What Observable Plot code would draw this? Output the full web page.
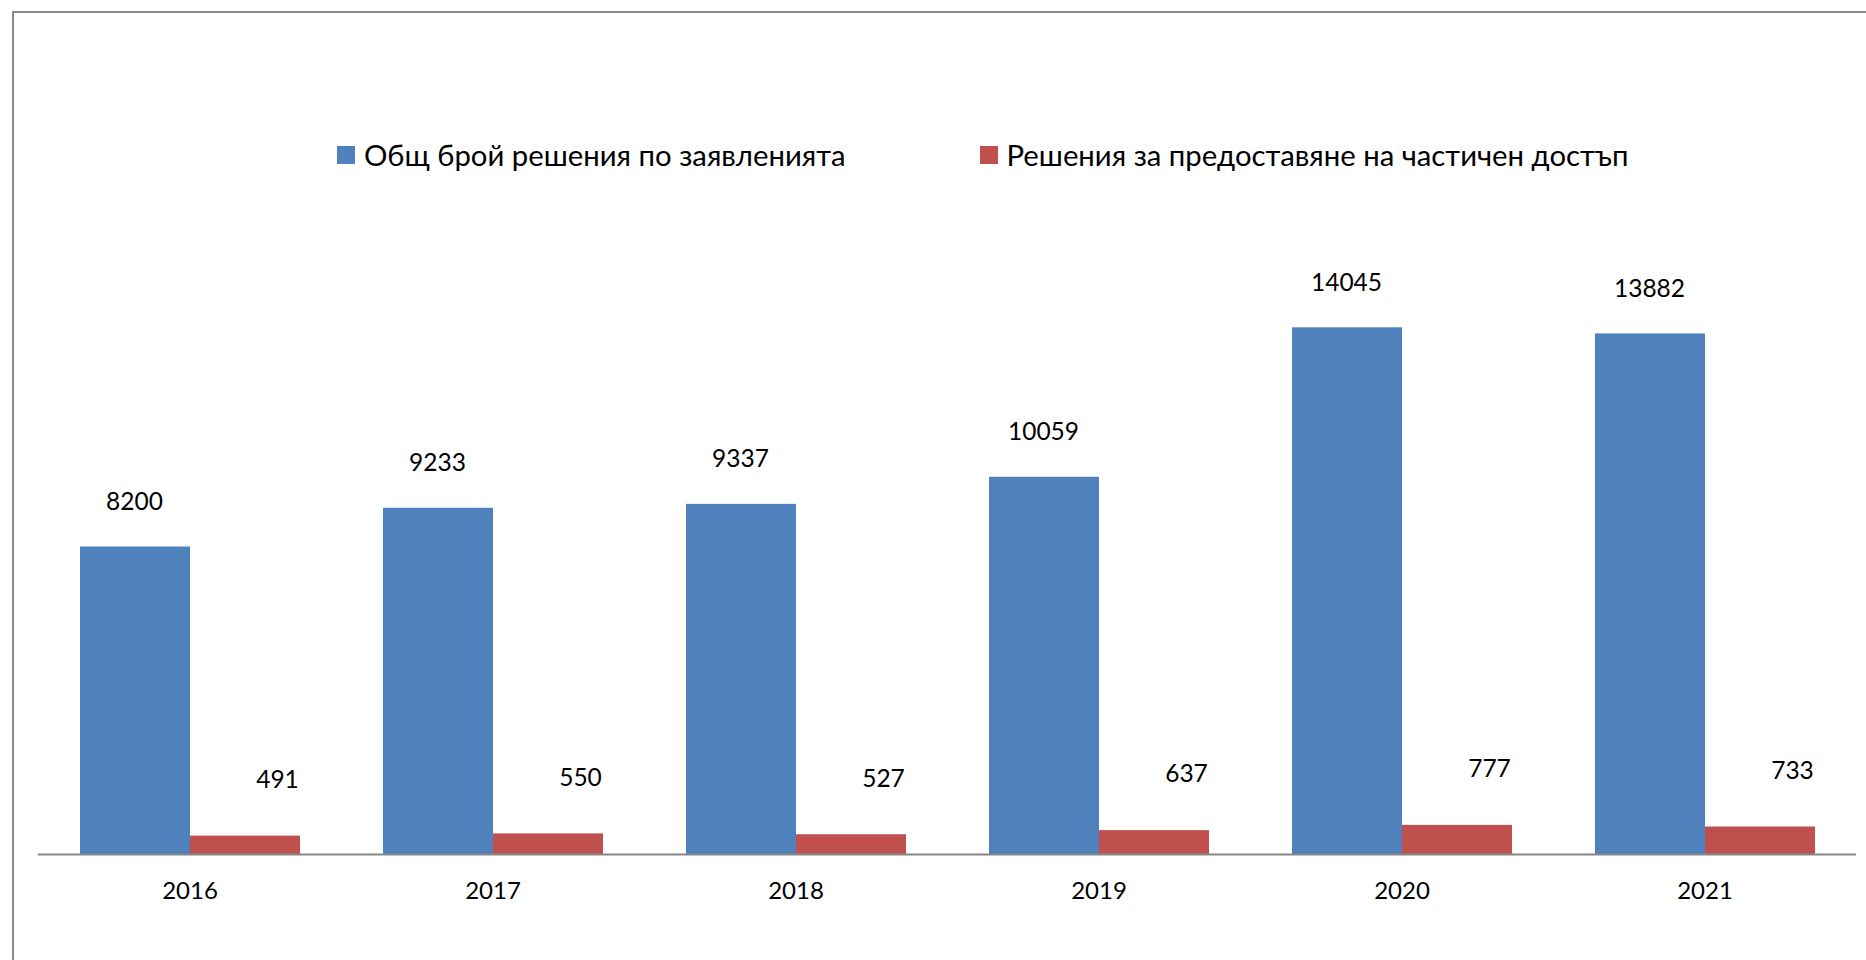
<!DOCTYPE html>
<html>
<head>
<meta charset="utf-8">
<script src="https://cdn.jsdelivr.net/npm/d3@7"></script>
<script src="https://cdn.jsdelivr.net/npm/@observablehq/plot@0.6"></script>
<style>
  html, body { margin: 0; padding: 0; background: #fff; }
  body { width: 1866px; height: 960px; position: relative; overflow: hidden; font-family: "Lato", "Open Sans", sans-serif; }
  #frame { position: absolute; left: 12px; top: 11px; width: 1900px; height: 1000px; border-left: 2px solid #8a8a8a; border-top: 2px solid #8a8a8a; box-sizing: border-box; }
  #chart { position: absolute; left: 0; top: 0; }
  #legend { position: absolute; left: 337px; top: 137px; display: flex; align-items: center; gap: 134px; font-size: 29.3px; color: #000; white-space: nowrap; }
  .item { display: flex; align-items: center; gap: 9px; }
  .sw { width: 18px; height: 18px; display: inline-block; }
</style>
</head>
<body>
<div id="frame"></div>
<div id="chart"></div>
<div id="legend"></div>
<script>
const years = ["2016", "2017", "2018", "2019", "2020", "2021"];
const totalDecisions = [8200, 9233, 9337, 10059, 14045, 13882];
const partialAccess = [491, 550, 527, 637, 777, 733];
const seriesNames = ["Общ брой решения по заявленията", "Решения за предоставяне на частичен достъп"];
const seriesColors = ["#4F81BD", "#C0504D"];

const data = [];
years.forEach((y, i) => {
  data.push({year: y, series: seriesNames[0], value: totalDecisions[i]});
  data.push({year: y, series: seriesNames[1], value: partialAccess[i]});
});

const font = "Lato, 'Open Sans', sans-serif";

const chart = Plot.plot({
  width: 1866,
  height: 960,
  marginLeft: 38,
  marginRight: 10,
  marginTop: 254,
  marginBottom: 106,
  style: {fontFamily: font, background: "transparent", color: "#000"},
  fx: {domain: years, paddingInner: 0, paddingOuter: 0, label: null},
  x: {domain: seriesNames, paddingInner: 0, paddingOuter: 0.377, axis: null},
  y: {domain: [0, 16000], axis: null},
  color: {domain: seriesNames, range: seriesColors},
  marks: [
    Plot.barY(data, {fx: "year", x: "series", y: "value", fill: "series"}),
    Plot.ruleY([0], {stroke: "#868686", strokeWidth: 2}),
    Plot.text(data.filter(d => d.series === seriesNames[0]), {
      fx: "year", x: "series", y: "value", text: d => String(d.value),
      dy: -45, dx: -1, fontSize: 24.5, fill: "#000"
    }),
    Plot.text(data.filter(d => d.series === seriesNames[1]), {
      fx: "year", x: "series", y: "value", text: d => String(d.value),
      dy: -56, dx: 32, fontSize: 24.5, fill: "#000"
    }),
    Plot.axisFx({anchor: "bottom", tickSize: 0, tickPadding: 27, fontSize: 24, label: null})
  ]
});
document.getElementById("chart").appendChild(chart);

const legend = document.getElementById("legend");
seriesNames.forEach((name, i) => {
  const item = document.createElement("div");
  item.className = "item";
  const sw = document.createElement("span");
  sw.className = "sw";
  sw.style.background = seriesColors[i];
  const t = document.createElement("span");
  t.textContent = name;
  item.appendChild(sw);
  item.appendChild(t);
  legend.appendChild(item);
});
</script>
</body>
</html>
